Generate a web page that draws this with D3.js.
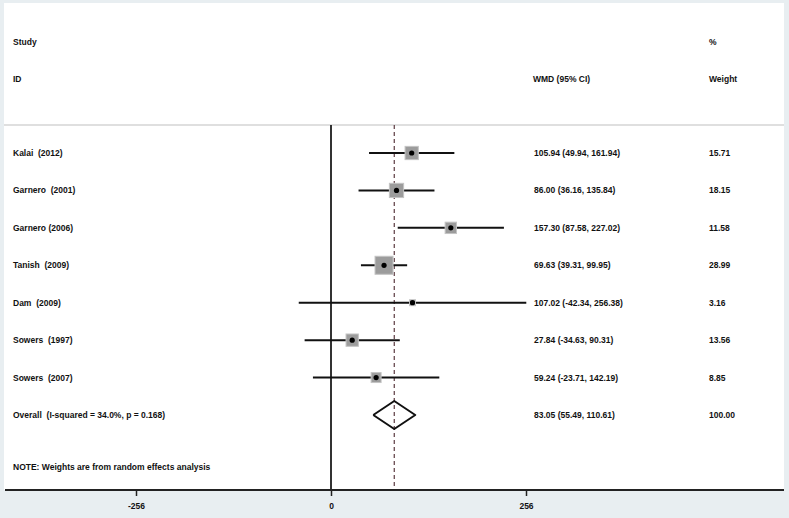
<!DOCTYPE html>
<html>
<head>
<meta charset="utf-8">
<script src="https://cdn.jsdelivr.net/npm/d3@7"></script>
<style>
  body { margin: 0; background: #e8eef1; }
  svg { display: block; }
  text { font-family: "Liberation Sans", Arial, sans-serif; fill: #111; white-space: pre; }
</style>
</head>
<body>
<div id="chart"></div>
<script>
const studies = ["Kalai  (2012)", "Garnero  (2001)", "Garnero (2006)", "Tanish  (2009)", "Dam  (2009)", "Sowers  (1997)", "Sowers  (2007)"];
const wmd = [105.94, 86.00, 157.30, 69.63, 107.02, 27.84, 59.24];
const lower = [49.94, 36.16, 87.58, 39.31, -42.34, -34.63, -23.71];
const upper = [161.94, 135.84, 227.02, 99.95, 256.38, 90.31, 142.19];
const weights = ["15.71", "18.15", "11.58", "28.99", "3.16", "13.56", "8.85"];
const overall = { label: "Overall  (I-squared = 34.0%, p = 0.168)", est: 83.05, lo: 55.49, hi: 110.61, weight: "100.00" };
const ticks = [-256, 0, 256];

const width = 789, height = 518;
const panel = { left: 4, right: 784, top: 3, bottom: 490 };
const plotTop = 125;

const svg = d3.select("#chart").append("svg")
  .attr("width", width)
  .attr("height", height);

svg.append("rect")
  .attr("x", panel.left).attr("y", panel.top)
  .attr("width", panel.right - panel.left)
  .attr("height", panel.bottom - panel.top)
  .attr("fill", "#fff");

const x = d3.scaleLinear().domain([-256, 256]).range([136, 526]);

// rows: 7 studies then overall
const y = d3.scaleLinear().domain([0, 7]).range([153, 415]);

const fmt = v => v.toFixed(2);

const fs = 8.5;
function label(xp, yp, s, anchor) {
  svg.append("text")
    .attr("x", xp).attr("y", yp)
    .attr("dy", "0.35em")
    .attr("font-size", fs)
    .attr("font-weight", "bold")
    .attr("xml:space", "preserve")
    .attr("text-anchor", anchor || "start")
    .text(s);
}

// header
label(13, 42, "Study");
label(13, 79, "ID");
label(533, 79, "WMD (95% CI)");
label(709, 42, "%");
label(709, 79, "Weight");

// separator under header
svg.append("line")
  .attr("x1", panel.left).attr("x2", panel.right)
  .attr("y1", plotTop).attr("y2", plotTop)
  .attr("stroke", "#d4d4d4").attr("stroke-width", 1.5);

// zero line
svg.append("line")
  .attr("x1", x(0)).attr("x2", x(0))
  .attr("y1", plotTop).attr("y2", panel.bottom)
  .attr("stroke", "#333").attr("stroke-width", 2);

// overall dashed line
svg.append("line")
  .attr("x1", x(overall.est)).attr("x2", x(overall.est))
  .attr("y1", plotTop).attr("y2", panel.bottom)
  .attr("stroke", "#5b3a40").attr("stroke-width", 1.2)
  .attr("stroke-dasharray", "4,3");

const size = d3.scaleSqrt().domain([0, 28.99]).range([0, 18]);

const rows = svg.selectAll(".row")
  .data(studies.map((s, i) => ({ s, est: wmd[i], lo: lower[i], hi: upper[i], w: weights[i], i })))
  .enter().append("g").attr("class", "row");

rows.append("line")
  .attr("x1", d => x(d.lo)).attr("x2", d => x(d.hi))
  .attr("y1", d => y(d.i)).attr("y2", d => y(d.i))
  .attr("stroke", "#111").attr("stroke-width", 2);

rows.append("rect")
  .attr("x", d => x(d.est) - size(+d.w) / 2)
  .attr("y", d => y(d.i) - size(+d.w) / 2)
  .attr("width", d => size(+d.w))
  .attr("height", d => size(+d.w))
  .attr("fill", "#9c9c9c")
  .attr("stroke", "#c4c4c4").attr("stroke-width", 1);

rows.append("circle")
  .attr("cx", d => x(d.est)).attr("cy", d => y(d.i))
  .attr("r", 2.6).attr("fill", "#000");

rows.each(function(d) {
  label(13, y(d.i), d.s);
  label(534, y(d.i), fmt(d.est) + " (" + fmt(d.lo) + ", " + fmt(d.hi) + ")");
  label(709, y(d.i), d.w);
});

// overall diamond
const yo = y(7);
svg.append("path")
  .attr("d", d3.line()([[x(overall.lo), yo], [x(overall.est), yo - 14], [x(overall.hi), yo], [x(overall.est), yo + 14], [x(overall.lo), yo]]))
  .attr("fill", "none").attr("stroke", "#111").attr("stroke-width", 2)
  .attr("stroke-linejoin", "round");

label(13, yo, overall.label);
label(534, yo, fmt(overall.est) + " (" + fmt(overall.lo) + ", " + fmt(overall.hi) + ")");
label(709, yo, overall.weight);

label(13, 467, "NOTE: Weights are from random effects analysis");

// axis
svg.append("line")
  .attr("x1", panel.left + 1).attr("x2", panel.right)
  .attr("y1", panel.bottom).attr("y2", panel.bottom)
  .attr("stroke", "#222").attr("stroke-width", 2);

const axis = d3.axisBottom(x).tickValues(ticks).tickSize(6).tickSizeOuter(0).tickFormat(d => String(d));
const ag = svg.append("g").attr("transform", `translate(0,${panel.bottom})`).call(axis);
ag.select(".domain").remove();
ag.selectAll(".tick line").attr("stroke", "#222").attr("stroke-width", 1.5);
ag.selectAll(".tick text")
  .attr("y", 13)
  .attr("font-size", 8.5)
  .attr("font-weight", "bold")
  .attr("font-family", "Liberation Sans, Arial, sans-serif")
  .attr("fill", "#111");
</script>
</body>
</html>
